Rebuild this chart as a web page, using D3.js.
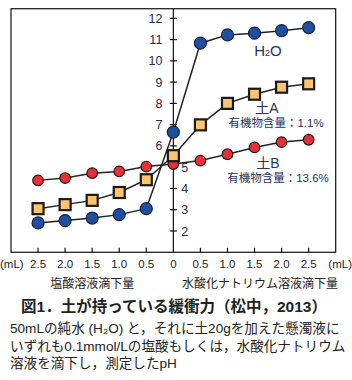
<!DOCTYPE html>
<html>
<head>
<meta charset="utf-8">
<script src="https://cdn.jsdelivr.net/npm/d3@7"></script>
<style>
  body { margin: 0; background: #fff; }
  svg { display: block; }
  text { font-family: "Liberation Sans", "Noto Sans CJK JP", sans-serif; }
</style>
</head>
<body>
<svg id="chart" width="352" height="380"></svg>
<script>
// 滴下量 (mL): 負=塩酸, 正=水酸化ナトリウム
const doses = [-2.5, -2, -1.5, -1, -0.5, 0, 0.5, 1, 1.5, 2, 2.5];
const phH2O = [2.38, 2.49, 2.61, 2.77, 3.05, 6.65, 10.83, 11.22, 11.30, 11.42, 11.56];
const phSoilA = [3.05, 3.24, 3.44, 3.81, 4.41, 5.54, 6.99, 8.0, 8.43, 8.76, 8.92];
const phSoilB = [4.38, 4.49, 4.72, 4.80, 5.03, 5.15, 5.31, 5.61, 5.93, 6.18, 6.29];

const yTicksLeft = [6, 7, 8, 9, 10, 11, 12];
const yTicksRight = [2, 3, 4, 5];
const xTicks = [-2.5, -2, -1.5, -1, -0.5, 0, 0.5, 1, 1.5, 2, 2.5];

const svg = d3.select("#chart");
const x = d3.scaleLinear().domain([-3, 3]).range([11, 335.7]);
const y = d3.scaleLinear().domain([2, 12]).range([231, 18.3]);
const yTop = y(12.45), yBot = y(1.0);

// 枠
svg.append("rect")
  .attr("x", x(-3)).attr("y", yTop)
  .attr("width", x(3) - x(-3)).attr("height", yBot - yTop)
  .attr("fill", "none").attr("stroke", "#111").attr("stroke-width", 1.2);

// y軸 (中央)
svg.append("line")
  .attr("x1", x(0)).attr("x2", x(0)).attr("y1", yTop).attr("y2", yBot)
  .attr("stroke", "#111").attr("stroke-width", 1.2);

const allY = yTicksRight.concat(yTicksLeft);
svg.selectAll("line.ytick").data(allY).join("line")
  .attr("class", "ytick")
  .attr("x1", x(0) - 3.5).attr("x2", x(0) + 3.5)
  .attr("y1", d => y(d)).attr("y2", d => y(d))
  .attr("stroke", "#111").attr("stroke-width", 1.2);

svg.selectAll("text.yl").data(yTicksLeft).join("text")
  .attr("class", "yl")
  .attr("x", x(0) - 11).attr("y", d => y(d) + 4.5)
  .attr("text-anchor", "end").attr("font-size", 12.5).attr("fill", "#1f2b52")
  .text(d => d);

svg.selectAll("text.yr").data(yTicksRight).join("text")
  .attr("class", "yr")
  .attr("x", x(0) + 8).attr("y", d => y(d) + 4.5)
  .attr("text-anchor", "start").attr("font-size", 12.5).attr("fill", "#1f2b52")
  .text(d => d);

// x目盛
svg.selectAll("line.xtick").data(xTicks.filter(d => d !== 0)).join("line")
  .attr("class", "xtick")
  .attr("x1", d => x(d)).attr("x2", d => x(d))
  .attr("y1", yBot).attr("y2", yBot - 4.5)
  .attr("stroke", "#111").attr("stroke-width", 1.2);

svg.selectAll("text.xl").data(xTicks).join("text")
  .attr("class", "xl")
  .attr("x", d => x(d)).attr("y", yBot + 16)
  .attr("text-anchor", "middle").attr("font-size", 11.5).attr("fill", "#222")
  .text(d => d === 0 ? "0" : d3.format(".1f")(Math.abs(d)));

svg.append("text").attr("x", 0).attr("y", yBot + 16)
  .attr("font-size", 11.5).attr("fill", "#222").text("(mL)");
svg.append("text").attr("x", 352).attr("y", yBot + 16)
  .attr("text-anchor", "end").attr("font-size", 11.5).attr("fill", "#222").text("(mL)");

svg.append("text").attr("x", x(-1.5)).attr("y", yBot + 36)
  .attr("text-anchor", "middle").attr("font-size", 12).attr("fill", "#222").text("塩酸溶液滴下量");
svg.append("text").attr("x", x(1.6)).attr("y", yBot + 36)
  .attr("text-anchor", "middle").attr("font-size", 12).attr("fill", "#222").text("水酸化ナトリウム溶液滴下量");

// 系列
const line = d3.line().x(d => x(d[0])).y(d => y(d[1]));
const series = [
  { vals: phSoilB, shape: "circle", r: 5.3, fill: "#e8303a", stroke: "#2a1414", sw: 1.2 },
  { vals: phSoilA, shape: "square", r: 5.5, fill: "#ffc46e", stroke: "#1a1a1a", sw: 2.2 },
  { vals: phH2O, shape: "circle", r: 6, fill: "#1f4f9e", stroke: "#15223f", sw: 1.2 }
];

series.forEach(s => {
  const pts = doses.map((d, i) => [d, s.vals[i]]);
  svg.append("path").datum(pts)
    .attr("d", line).attr("fill", "none")
    .attr("stroke", "#222").attr("stroke-width", 1.5);
});

series.forEach(s => {
  const pts = doses.map((d, i) => [d, s.vals[i]]);
  if (s.shape === "circle") {
    svg.append("g").selectAll("circle").data(pts).join("circle")
      .attr("cx", d => x(d[0])).attr("cy", d => y(d[1])).attr("r", s.r)
      .attr("fill", s.fill).attr("stroke", s.stroke).attr("stroke-width", s.sw);
  } else {
    svg.append("g").selectAll("rect").data(pts).join("rect")
      .attr("x", d => x(d[0]) - s.r).attr("y", d => y(d[1]) - s.r)
      .attr("width", s.r * 2).attr("height", s.r * 2)
      .attr("fill", s.fill).attr("stroke", s.stroke).attr("stroke-width", s.sw);
  }
});

// 系列ラベル
const lab = svg.append("text").attr("x", 268).attr("y", 56)
  .attr("text-anchor", "middle").attr("font-size", 15).attr("fill", "#263360");
lab.append("tspan").text("H");
lab.append("tspan").attr("font-size", 9).attr("dy", 0).text("2");
lab.append("tspan").text("O");

svg.append("text").attr("x", 267).attr("y", 113)
  .attr("text-anchor", "middle").attr("font-size", 14).attr("fill", "#263360").text("土A");
svg.append("text").attr("x", 276).attr("y", 127)
  .attr("text-anchor", "middle").attr("font-size", 11.5).attr("fill", "#263360").text("有機物含量：1.1%");
svg.append("text").attr("x", 268).attr("y", 168)
  .attr("text-anchor", "middle").attr("font-size", 14).attr("fill", "#263360").text("土B");
svg.append("text").attr("x", 278).attr("y", 182)
  .attr("text-anchor", "middle").attr("font-size", 11.5).attr("fill", "#263360").text("有機物含量：13.6%");

// 図タイトルと説明
svg.append("text").attr("x", 174).attr("y", 312)
  .attr("text-anchor", "middle").attr("font-size", 15.5).attr("font-weight", "bold").attr("fill", "#222")
  .text("図1．土が持っている緩衝力（松中，2013）");

const notes = [
  "50mLの純水 (H₂O) と，それに土20gを加えた懸濁液に",
  "いずれも0.1mmol/Lの塩酸もしくは，水酸化ナトリウム",
  "溶液を滴下し，測定したpH"
];
svg.selectAll("text.note").data(notes).join("text")
  .attr("class", "note")
  .attr("x", 10).attr("y", (d, i) => 333 + i * 17.5)
  .attr("font-size", 13.6).attr("fill", "#222")
  .text(d => d);
</script>
</body>
</html>
